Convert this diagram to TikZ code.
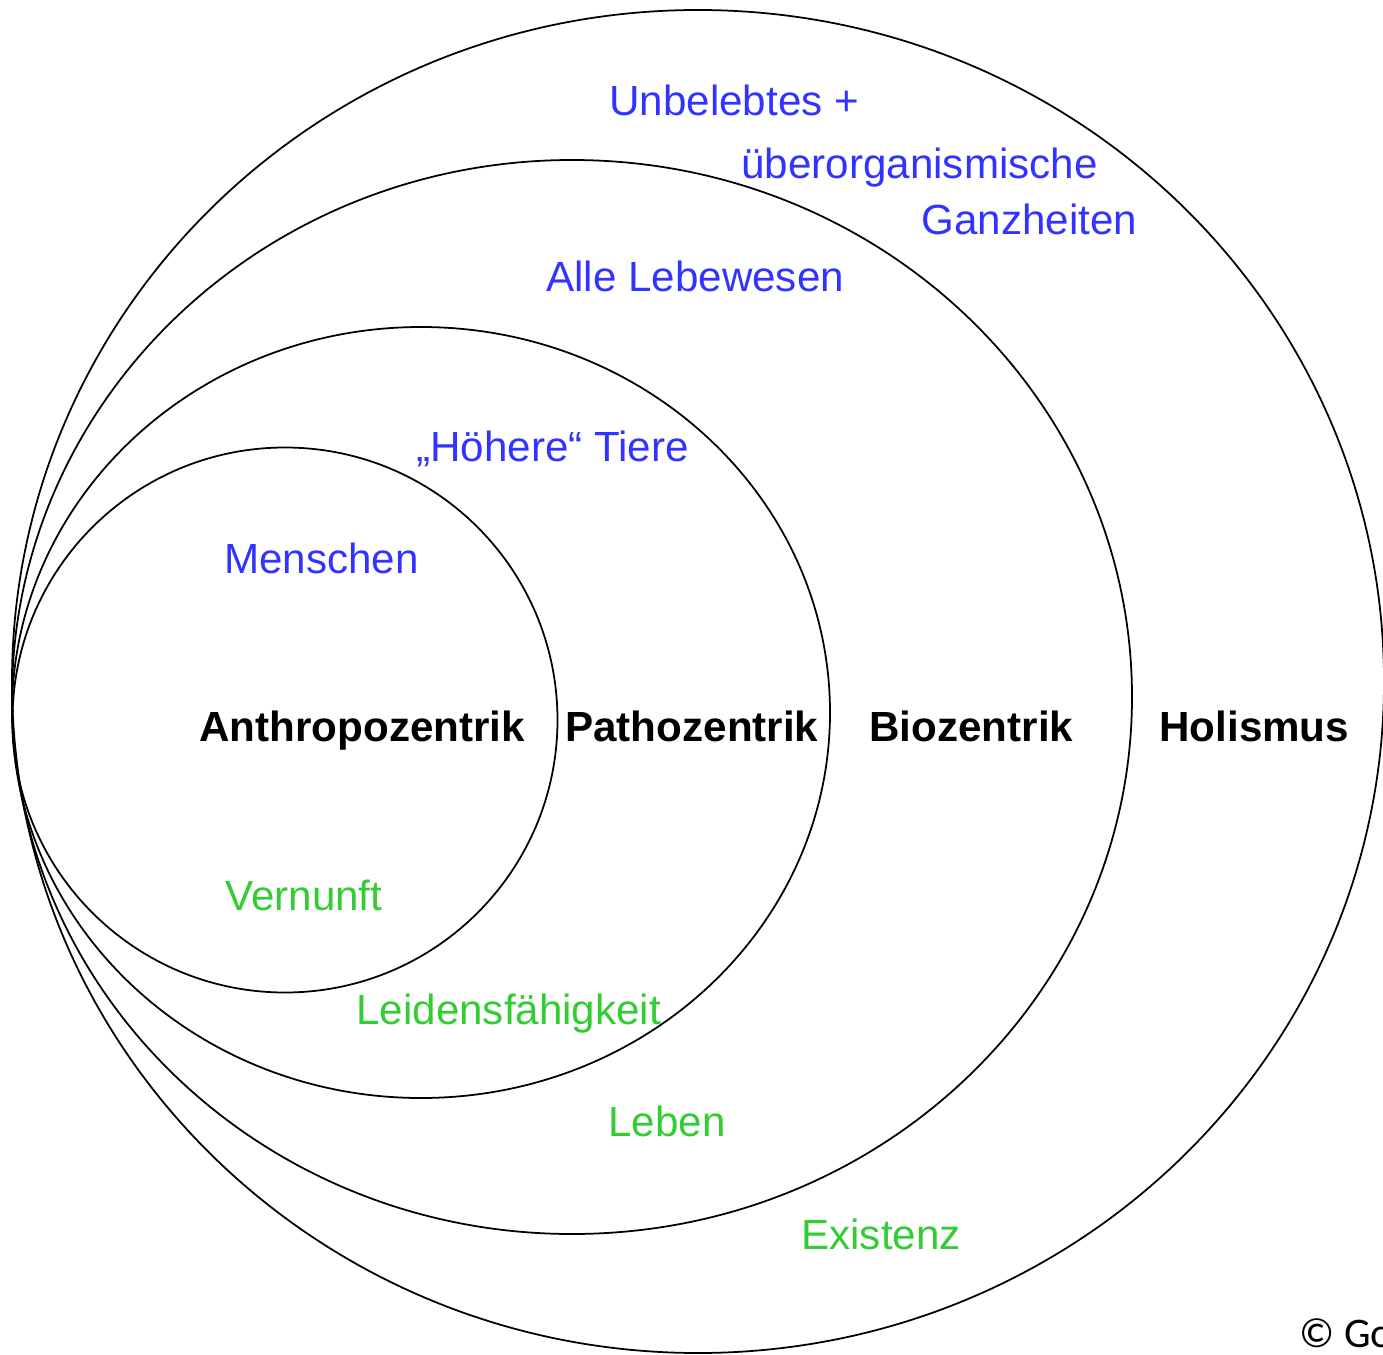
\documentclass[tikz,border=0pt]{standalone}
\usepackage{fontspec}
\setmainfont{Liberation Sans}
\newfontfamily\notefont{Carlito}
\usepackage{xcolor}
\usepackage{tikz}
\usetikzlibrary{positioning}
\definecolor{ringline}{HTML}{000000}
\definecolor{groupblue}{HTML}{3333FF}
\definecolor{critgreen}{HTML}{33CC33}
\tikzset{
every picture/.style={line cap=round,line join=round},
ring/.style={draw=ringline, line width=1pt},
fig label/.style={font=\fontsize{24}{28}\selectfont, anchor=base west, inner sep=0pt},
group label/.style={fig label, text=groupblue},
crit label/.style={fig label, text=critgreen},
ethic label/.style={fig label, font=\fontsize{24}{28}\selectfont\bfseries}
}
\begin{document}
\begin{tikzpicture}[x=0.02cm,y=-0.02cm]
\useasboundingbox (0,0) rectangle (1383,1355);
% nested rings
\draw[ring] (698,681.5) ellipse [x radius=686, y radius=671.5];
\draw[ring] (572,697) ellipse [x radius=560, y radius=537];
\draw[ring] (421,712.5) ellipse [x radius=409, y radius=385.5];
\draw[ring] (285,720) ellipse [x radius=272.5, y radius=272.5];
% who counts
\node[group label] (unbelebt) at (609,115) {Unbelebtes +};
\node[group label] (ueberorg) at (741,178) {überorganismische};
\node[group label] (ganzheit) at (921,235) {Ganzheiten};
\node[group label] (lebewesen) at (546,291) {Alle Lebewesen};
\node[group label] (tiere) at (416,461) {„Höhere“ Tiere};
\node[group label] (menschen) at (224,573) {Menschen};
% positions
\node[ethic label] (anthropo) at (199,741) {Anthropozentrik};
\node[ethic label] (patho) at (565,741) {Pathozentrik};
\node[ethic label] (bio) at (869,741) {Biozentrik};
\node[ethic label] (holismus) at (1159,741) {Holismus};
% criteria
\node[crit label] (vernunft) at (225,910) {Vernunft};
\node[crit label] (leiden) at (356,1024) {Leidensfähigkeit};
\node[crit label] (leben) at (608,1136) {Leben};
\node[crit label] (existenz) at (801,1249) {Existenz};
\node[anchor=base west, inner sep=0pt, font=\notefont\fontsize{24}{28}\selectfont] (copy) at (1299,1347) {© Go};
\end{tikzpicture}
\end{document}
